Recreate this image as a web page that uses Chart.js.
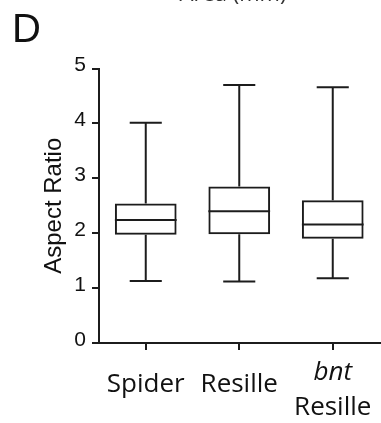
<!DOCTYPE html>
<html>
<head>
<meta charset="utf-8">
<script src="https://cdn.jsdelivr.net/npm/chart.js@4.4.1/dist/chart.umd.min.js"></script>
<style>
  html, body { margin: 0; padding: 0; background: #fff; }
  #wrap { position: relative; width: 381px; height: 423px; }
</style>
</head>
<body>
<div id="wrap"><canvas id="c" width="381" height="423"></canvas></div>
<script>
// 長寬比箱形圖 (panel D)
const categories = ['Spider', 'Resille', 'bnt Resille'];
const labelLines = [['Spider'], ['Resille'], ['bnt', 'Resille']];
const italicFirstLine = [false, false, true];
const whiskerMin = [1.13, 1.12, 1.18];
const quartile1 = [1.97, 1.98, 1.90];
const medians = [2.24, 2.40, 2.16];
const quartile3 = [2.54, 2.85, 2.60];
const whiskerMax = [4.01, 4.70, 4.66];
const yTicks = [0, 1, 2, 3, 4, 5];

const INK = '#1c1c1c';
const TEXT = '#111111';
const LABEL_FONT = '"Open Sans", "Noto Sans", sans-serif';
const ARIAL = '"Liberation Sans", Arial, sans-serif';

const boxPlotExtras = {
    id: 'boxPlotExtras',
    beforeDatasetsDraw(chart) {
        const { ctx, scales: { y } } = chart;
        const meta = chart.getDatasetMeta(0);
        ctx.save();
        ctx.strokeStyle = INK;
        ctx.lineWidth = 2;
        meta.data.forEach((bar, i) => {
            const cx = bar.x;
            const half = bar.width * 0.26;
            const yMax = y.getPixelForValue(whiskerMax[i]);
            const yMin = y.getPixelForValue(whiskerMin[i]);
            const yQ1 = y.getPixelForValue(quartile1[i]);
            const yQ3 = y.getPixelForValue(quartile3[i]);
            ctx.beginPath();
            ctx.moveTo(cx, yQ3); ctx.lineTo(cx, yMax);
            ctx.moveTo(cx - half, yMax); ctx.lineTo(cx + half, yMax);
            ctx.moveTo(cx, yQ1); ctx.lineTo(cx, yMin);
            ctx.moveTo(cx - half, yMin); ctx.lineTo(cx + half, yMin);
            ctx.stroke();
        });
        ctx.restore();
    },
    afterDatasetsDraw(chart) {
        const { ctx, scales: { y } } = chart;
        const meta = chart.getDatasetMeta(0);
        ctx.save();
        ctx.strokeStyle = INK;
        ctx.lineWidth = 2;
        meta.data.forEach((bar, i) => {
            const ym = y.getPixelForValue(medians[i]);
            ctx.beginPath();
            ctx.moveTo(bar.x - bar.width / 2, ym);
            ctx.lineTo(bar.x + bar.width / 2, ym);
            ctx.stroke();
        });
        ctx.restore();
    },
    afterDraw(chart) {
        const { ctx, scales: { x } } = chart;
        ctx.save();
        ctx.fillStyle = TEXT;
        ctx.textAlign = 'center';
        ctx.textBaseline = 'alphabetic';
        labelLines.forEach((lines, i) => {
            const cx = x.getPixelForValue(i);
            if (lines.length === 1) {
                ctx.font = '26px ' + LABEL_FONT;
                ctx.fillText(lines[0], cx, 392);
            } else {
                ctx.font = (italicFirstLine[i] ? 'italic ' : '') + '26px ' + LABEL_FONT;
                ctx.fillText(lines[0], cx, 380);
                ctx.font = '26px ' + LABEL_FONT;
                ctx.fillText(lines[1], cx, 415);
            }
        });
        // panel letter
        ctx.textAlign = 'left';
        ctx.font = '40px ' + ARIAL;
        ctx.fillText('D', 12, 42);
        // cut-off title of the panel above
        ctx.textAlign = 'center';
        ctx.fillStyle = '#333';
        ctx.font = '22px ' + LABEL_FONT;
        ctx.fillText('Area (mm)', 233, 1);
        ctx.restore();
    },
};

new Chart(document.getElementById('c'), {
    type: 'bar',
    data: {
        labels: categories,
        datasets: [{
            data: categories.map((_, i) => [quartile1[i], quartile3[i]]),
            backgroundColor: 'rgba(255,255,255,0)',
            borderColor: INK,
            borderWidth: 2,
            borderSkipped: false,
            barPercentage: 0.66,
            categoryPercentage: 1,
        }],
    },
    options: {
        responsive: false,
        animation: false,
        layout: { padding: { top: 68.5, right: 1.5, left: 0, bottom: 0 } },
        plugins: { legend: { display: false }, tooltip: { enabled: false } },
        scales: {
            x: {
                offset: true,
                grid: { display: true, offset: false, drawOnChartArea: false, drawTicks: true, tickLength: 7, color: INK, lineWidth: 2 },
                border: { display: true, color: INK, width: 2 },
                ticks: { display: false },
                afterFit(scale) { scale.height = 80; },
            },
            y: {
                min: 0,
                max: 5,
                afterBuildTicks(scale) { scale.ticks = yTicks.map((v) => ({ value: v })); },
                grid: { display: true, drawOnChartArea: false, drawTicks: true, tickLength: 7, color: INK, lineWidth: 2 },
                border: { display: true, color: INK, width: 2 },
                ticks: { color: TEXT, padding: 6, labelOffset: -3, font: { family: ARIAL, size: 21 } },
                title: { display: true, text: 'Aspect Ratio', color: TEXT, padding: { top: 40, bottom: 0 }, font: { family: ARIAL, size: 24 } },
                afterFit(scale) { scale.width = 99; },
            },
        },
    },
    plugins: [boxPlotExtras],
});
</script>
</body>
</html>
